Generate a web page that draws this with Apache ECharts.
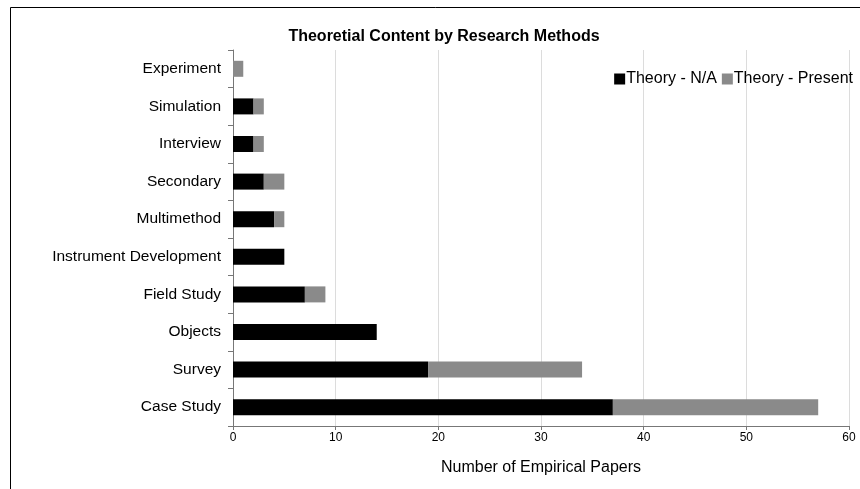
<!DOCTYPE html>
<html>
<head>
<meta charset="utf-8">
<script src="https://cdn.jsdelivr.net/npm/echarts@6/dist/echarts.min.js"></script>
<style>
  html, body { margin: 0; padding: 0; background: #fff; }
  #chart { width: 860px; height: 489px; }
</style>
</head>
<body>
<div id="chart"></div>
<script>
// Research methods, listed top to bottom
const methods = ['Experiment', 'Simulation', 'Interview', 'Secondary', 'Multimethod',
  'Instrument Development', 'Field Study', 'Objects', 'Survey', 'Case Study'];
// Papers with no theory stated
const theoryNA = [0, 2, 2, 3, 4, 5, 7, 14, 19, 37];
// Papers with theory present
const theoryPresent = [1, 1, 1, 2, 1, 0, 2, 0, 15, 20];

const FONT = 'Liberation Sans, Arial, Helvetica, sans-serif';
const chart = echarts.init(document.getElementById('chart'));

chart.setOption({
  animation: false,
  textStyle: { fontFamily: FONT },
  title: {
    text: 'Theoretial Content by Research Methods',
    left: 439, textAlign: 'center', top: 24,
    textStyle: { fontSize: 16, fontWeight: 'bold', color: '#000', fontFamily: FONT }
  },
  legend: {
    right: 2, top: 66,
    itemWidth: 11, itemHeight: 11, itemGap: 5,
    icon: 'rect',
    textStyle: { fontSize: 16, color: '#000', fontFamily: FONT, padding: [0, 0, 0, -4] },
    data: ['Theory - N/A', 'Theory - Present']
  },
  grid: { left: 233, right: 11, top: 50, bottom: 63 },
  xAxis: {
    type: 'value', min: 0, max: 60, interval: 10,
    name: 'Number of Empirical Papers', nameLocation: 'middle', nameGap: 34,
    nameTextStyle: { fontSize: 16, color: '#000', fontFamily: FONT },
    axisLine: { show: true, lineStyle: { color: '#777', width: 1 } },
    axisTick: { show: true, length: 4, lineStyle: { color: '#777' } },
    axisLabel: { fontSize: 12, color: '#000', margin: 6, fontFamily: FONT },
    splitLine: { show: true, lineStyle: { color: '#dcdcdc', width: 1 } }
  },
  yAxis: {
    type: 'category', data: methods, inverse: true,
    axisLine: { show: true, lineStyle: { color: '#777', width: 1 } },
    axisTick: { show: true, length: 5, lineStyle: { color: '#777' } },
    axisLabel: { fontSize: 15.5, color: '#000', margin: 12, fontFamily: FONT },
    splitLine: { show: false }
  },
  series: [
    {
      name: 'Theory - N/A', type: 'bar', stack: 'total', data: theoryNA,
      barWidth: 16, itemStyle: { color: '#000000' }
    },
    {
      name: 'Theory - Present', type: 'bar', stack: 'total', data: theoryPresent,
      barWidth: 16, itemStyle: { color: '#8a8a8a' }
    }
  ],
  graphic: [
    {
      type: 'rect', silent: true,
      shape: { x: 10.5, y: 7.5, width: 900, height: 600 },
      style: { fill: 'none', stroke: '#000', lineWidth: 1 }
    }
  ]
});
</script>
</body>
</html>
